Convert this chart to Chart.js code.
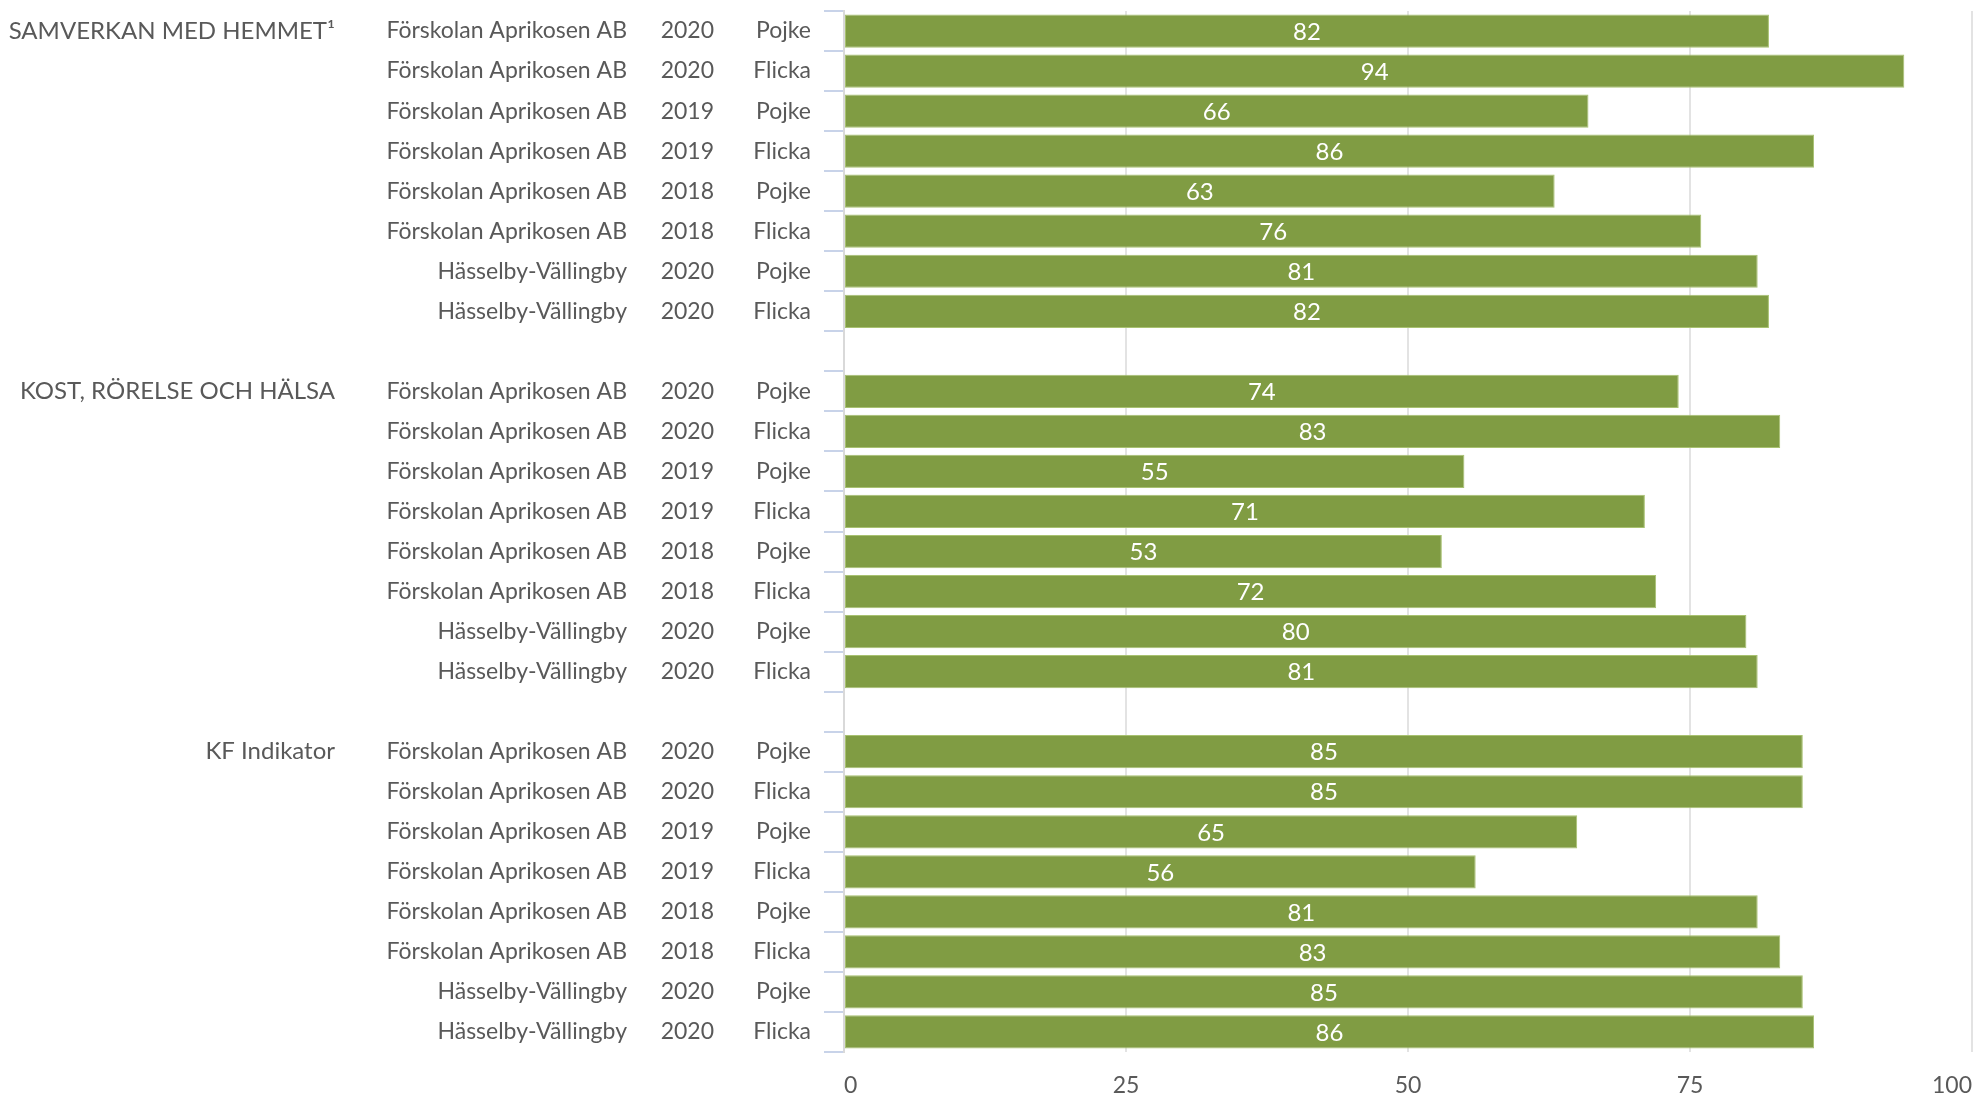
<!DOCTYPE html>
<html>
<head>
<meta charset="utf-8">
<script src="https://cdn.jsdelivr.net/npm/chart.js@4.4.1/dist/chart.umd.min.js"></script>
<style>
  html, body { margin: 0; padding: 0; background: #fff; }
  #wrap { width: 1975px; height: 1096px; }
</style>
</head>
<body>
<div id="wrap"><canvas id="chart"></canvas></div>
<script>
// data
var groups = ["SAMVERKAN MED HEMMET\u00b9", "KOST, RÖRELSE OCH HÄLSA", "KF Indikator"];
var units = ["Förskolan Aprikosen AB", "Förskolan Aprikosen AB", "Förskolan Aprikosen AB",
  "Förskolan Aprikosen AB", "Förskolan Aprikosen AB", "Förskolan Aprikosen AB",
  "Hässelby-Vällingby", "Hässelby-Vällingby"];
var years = ["2020", "2020", "2019", "2019", "2018", "2018", "2020", "2020"];
var genders = ["Pojke", "Flicka", "Pojke", "Flicka", "Pojke", "Flicka", "Pojke", "Flicka"];
var samverkan = [82, 94, 66, 86, 63, 76, 81, 82];
var kost = [74, 83, 55, 71, 53, 72, 80, 81];
var kfIndikator = [85, 85, 65, 56, 81, 83, 85, 86];
var xTicks = [0, 25, 50, 75, 100];

var labelColor = "#595959";
var fontFamily = "Lato, 'Noto Sans', sans-serif";

// build the rows, with one empty row between the groups
var series = [samverkan, kost, kfIndikator];
var groupCol = [], unitCol = [], yearCol = [], genderCol = [], values = [];
series.forEach(function (vals, g) {
  vals.forEach(function (v, i) {
    groupCol.push(i === 0 ? groups[g] : "");
    unitCol.push(units[i]);
    yearCol.push(years[i]);
    genderCol.push(genders[i]);
    values.push(v);
  });
  if (g < series.length - 1) {
    groupCol.push(""); unitCol.push(""); yearCol.push(""); genderCol.push(""); values.push(null);
  }
});

function fixWidth(w) {
  return function (scale) {
    scale.width = w;
    scale.paddingTop = 0;
    scale.paddingBottom = 0;
  };
}

function labelAxis(labels, weight, width, padding, size) {
  return {
    type: "category",
    axis: "y",
    position: "left",
    labels: labels,
    offset: true,
    weight: weight,
    grid: { display: false, drawTicks: false },
    border: { display: false },
    ticks: { autoSkip: false, padding: padding, color: labelColor, font: { family: fontFamily, size: size || 23 } },
    afterFit: fixWidth(width)
  };
}

// white value inside each bar
var barLabels = {
  id: "barLabels",
  afterDatasetsDraw: function (chart) {
    var ctx = chart.ctx;
    var data = chart.data.datasets[0].data;
    ctx.save();
    ctx.fillStyle = "#ffffff";
    ctx.font = "24px " + fontFamily;
    ctx.textAlign = "center";
    ctx.textBaseline = "middle";
    chart.getDatasetMeta(0).data.forEach(function (bar, i) {
      if (data[i] == null) return;
      ctx.fillText(data[i], (bar.x + bar.base) / 2, bar.y + 1);
    });
    ctx.restore();
  }
};

var ctx = document.getElementById("chart");

new Chart(ctx, {
  type: "bar",
  data: {
    labels: genderCol,
    datasets: [
      {
        data: values,
        backgroundColor: "#809c43",
        borderColor: "#a8c170",
        borderWidth: 1,
        borderSkipped: false,
        barPercentage: 0.83,
        categoryPercentage: 1
      }
    ]
  },
  options: {
    indexAxis: "y",
    responsive: true,
    maintainAspectRatio: false,
    animation: false,
    layout: { padding: { top: 11, right: 3, left: 0, bottom: 0 } },
    plugins: { legend: { display: false }, tooltip: { enabled: false } },
    scales: {
      x: {
        type: "linear",
        position: "bottom",
        min: 0,
        max: 100,
        afterBuildTicks: function (scale) {
          scale.ticks = xTicks.map(function (v) { return { value: v }; });
        },
        grid: { color: "#e3e3e3", lineWidth: 2, drawTicks: false },
        border: { display: false },
        ticks: { align: "inner", padding: 20, color: labelColor, font: { family: fontFamily, size: 23 } },
        afterFit: function (scale) {
          scale.height = 44;
          scale.paddingLeft = 0;
          scale.paddingRight = 0;
        }
      },
      y: {
        type: "category",
        position: "left",
        offset: true,
        weight: 1,
        grid: { drawOnChartArea: false, offset: true, tickLength: 20, color: "#c8d3e9", lineWidth: 2 },
        border: { color: "#d9d9d9", width: 2 },
        ticks: { autoSkip: false, padding: 13, color: labelColor, font: { family: fontFamily, size: 23 } },
        afterFit: fixWidth(114)
      },
      yYear: labelAxis(yearCol, 2, 80, 16),
      yUnit: labelAxis(unitCol, 3, 300, 23),
      yGroup: labelAxis(groupCol, 4, 350, 15, 24)
    }
  },
  plugins: [barLabels]
});
</script>
</body>
</html>
